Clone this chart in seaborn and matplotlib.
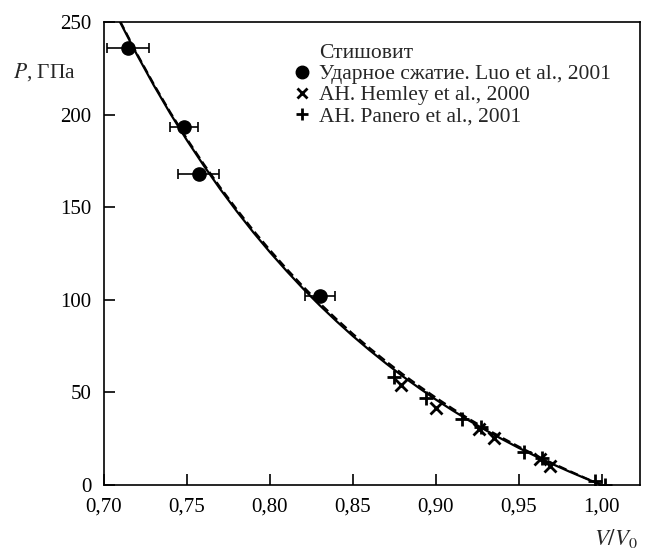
import numpy as np
import pandas as pd
import matplotlib
matplotlib.use("Agg")
import matplotlib.pyplot as plt
from matplotlib.lines import Line2D
import seaborn as sns

# ---- data ----
curve_v = [0.70, 0.71, 0.72, 0.73, 0.74, 0.75, 0.76, 0.77, 0.78, 0.79, 0.80,
           0.81, 0.82, 0.83, 0.84, 0.85, 0.86, 0.87, 0.88, 0.89, 0.90,
           0.91, 0.92, 0.93, 0.94, 0.95, 0.96, 0.97, 0.98, 0.99, 1.00]
curve_solid = [267.8, 249.4, 232.1, 215.8, 200.5, 186.1, 172.6, 159.8, 147.8, 136.4, 125.7,
               115.6, 106.0, 97.0, 88.5, 80.4, 72.8, 65.6, 58.7, 52.3, 46.1,
               40.3, 34.8, 29.6, 24.7, 20.0, 15.6, 11.4, 7.4, 3.6, 0.0]
curve_dashed = [268.3, 250.0, 232.7, 216.5, 201.2, 186.9, 173.5, 160.8, 148.9, 137.5, 126.9,
                116.8, 107.2, 98.2, 89.7, 81.6, 74.0, 66.8, 59.9, 53.4, 47.2,
                41.3, 35.7, 30.5, 25.5, 20.7, 16.2, 11.9, 7.8, 3.8, 0.0]

luo_v = [0.7145, 0.748, 0.757, 0.830]
luo_p = [236, 193.5, 168, 102]
luo_err = [0.0125, 0.0085, 0.0125, 0.009]

hemley_v = [0.879, 0.900, 0.926, 0.935, 0.963, 0.969]
hemley_p = [54, 41.5, 30.5, 25.5, 14, 10]

panero_v = [0.875, 0.894, 0.916, 0.927, 0.953, 0.964, 0.996, 1.002]
panero_p = [58.5, 47, 35.5, 31.5, 18, 14.5, 2, 0]

xticks = [0.70, 0.75, 0.80, 0.85, 0.90, 0.95, 1.00]
xtick_labels = ["0,70", "0,75", "0,80", "0,85", "0,90", "0,95", "1,00"]
yticks = [0, 50, 100, 150, 200, 250]

legend_title = "Стишовит"
legend_labels = ["Ударное сжатие. Luo et al., 2001",
                 "АН. Hemley et al., 2000",
                 "АН. Panero et al., 2001"]

# ---- style ----
sns.set_theme(style="ticks")
plt.rcParams["font.family"] = ["Liberation Serif", "DejaVu Serif"]
plt.rcParams["mathtext.fontset"] = "stix"

fig = plt.figure(figsize=(6.45, 5.5), dpi=100)
ax = fig.add_axes([104/645, 65/550, (640-104)/645, (528-65)/550])

df_c = pd.DataFrame({"v": curve_v, "s": curve_solid, "d": curve_dashed})
sns.lineplot(data=df_c, x="v", y="s", ax=ax, color="black", lw=1.6)
sns.lineplot(data=df_c, x="v", y="d", ax=ax, color="black", lw=1.5,
             linestyle=(0, (4, 2)))

ax.errorbar(luo_v, luo_p, xerr=luo_err, fmt="o", color="black", ms=9.5,
            elinewidth=1.2, capsize=3.5, capthick=1.2, zorder=5)
ax.plot(hemley_v, hemley_p, linestyle="none", marker="x", color="black",
        ms=8, mew=2, zorder=5)
ax.plot(panero_v, panero_p, linestyle="none", marker="+", color="black",
        ms=10, mew=2, zorder=5)

ax.set_xlim(0.70, 1.023)
ax.set_ylim(0, 250)
ax.set_xticks(xticks)
ax.set_xticklabels(xtick_labels)
ax.set_yticks(yticks)
ax.set_xlabel("")
ax.set_ylabel("")
for s in ax.spines.values():
    s.set_linewidth(1.2)
    s.set_color("black")
ax.tick_params(direction="in", length=8, width=1.2, labelsize=15,
               colors="black", top=False, right=False)
ax.tick_params(axis="x", pad=9)
ax.tick_params(axis="y", pad=9)

fig.text(13/645, 1 - 72/550, r"$P$, ГПа", fontsize=15.5, ha="left", va="center")
fig.text(638/645, 1 - 538/550, r"$V/V_0$", fontsize=16.5, ha="right", va="center")

handles = [Line2D([], [], linestyle="none"),
           Line2D([], [], linestyle="none", marker="o", color="black", ms=9),
           Line2D([], [], linestyle="none", marker="x", color="black", ms=7, mew=2),
           Line2D([], [], linestyle="none", marker="+", color="black", ms=9, mew=2)]
labels = [legend_title] + legend_labels
leg = ax.legend(handles, labels, loc="upper left", bbox_to_anchor=(0.353, 0.955),
                frameon=False, fontsize=15.5, handlelength=0.8, handletextpad=0.4,
                labelspacing=0.05, borderpad=0, borderaxespad=0)

fig.savefig("out.png", dpi=100)
